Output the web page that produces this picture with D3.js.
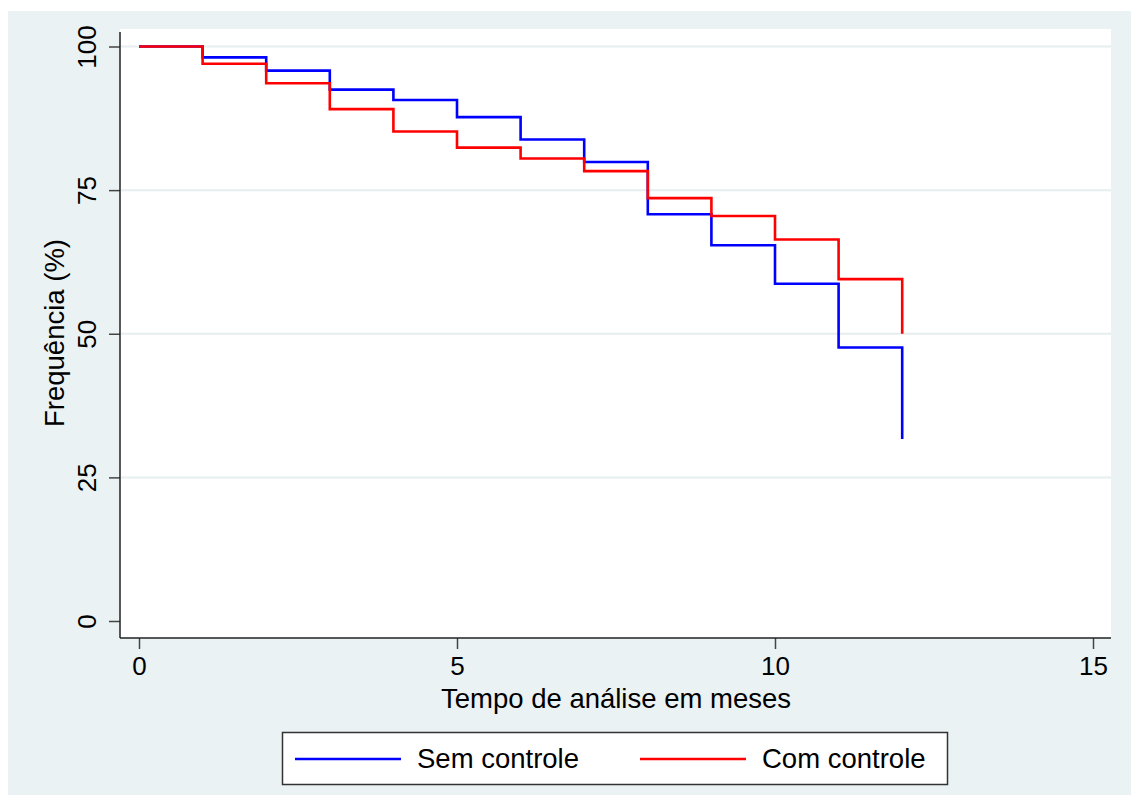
<!DOCTYPE html>
<html>
<head>
<meta charset="utf-8">
<script src="https://cdn.jsdelivr.net/npm/d3@7"></script>
<style>
  body { margin: 0; background: #fff; }
  text { font-family: "Liberation Sans", Arial, sans-serif; fill: #000; }
</style>
</head>
<body>
<figure id="km" style="margin:0"></figure>
<script>
// months since start
const months = [0, 1, 2, 3, 4, 5, 6, 7, 8, 9, 10, 11, 12];
// survival (%)
const semControle = [100, 98.1, 95.8, 92.5, 90.7, 87.7, 83.8, 79.9, 70.8, 65.4, 58.7, 47.6, 31.7];
const comControle = [100, 97.0, 93.6, 89.1, 85.2, 82.4, 80.5, 78.3, 73.6, 70.5, 66.4, 59.5, 50.0];
const xTicks = [0, 5, 10, 15];
const yTicks = [0, 25, 50, 75, 100];
const seriesNames = ["Sem controle", "Com controle"];
const seriesColors = ["#0000ff", "#ff0000"];

const width = 1131, height = 795;
const plot = { left: 120, right: 1111, top: 29, bottom: 638 };

const svg = d3.select("figure#km")
  .append("svg")
  .attr("width", width)
  .attr("height", height);

// outer graph region
svg.append("rect")
  .attr("x", 8).attr("y", 11)
  .attr("width", width - 8).attr("height", height - 11)
  .attr("fill", "#eaf2f3");

// plot region
svg.append("rect")
  .attr("x", plot.left).attr("y", plot.top)
  .attr("width", plot.right - plot.left).attr("height", plot.bottom - plot.top)
  .attr("fill", "#fff");

const x = d3.scaleLinear().domain([0, 15]).range([139, 1093]);
const y = d3.scaleLinear().domain([0, 100]).range([621, 46.5]);

// grid lines
svg.append("g")
  .selectAll("line")
  .data(yTicks.filter(d => d > 0))
  .enter()
  .append("line")
  .attr("x1", plot.left + 1).attr("x2", plot.right)
  .attr("y1", d => y(d)).attr("y2", d => y(d))
  .attr("stroke", "#e6eeef")
  .attr("stroke-width", 2);

// x axis
const xAxis = svg.append("g")
  .attr("transform", "translate(0," + plot.bottom + ")")
  .call(d3.axisBottom(x).tickValues(xTicks).tickSize(11).tickPadding(8).tickSizeOuter(0));
xAxis.select(".domain").remove();
xAxis.append("line")
  .attr("x1", plot.left).attr("x2", plot.right)
  .attr("stroke", "#222").attr("stroke-width", 1.5);
xAxis.selectAll(".tick line").attr("stroke", "#444").attr("stroke-width", 1.5);
xAxis.selectAll(".tick text")
  .style("font-size", "26px")
  .attr("fill", "#000");

// y axis
const yAxis = svg.append("g")
  .attr("transform", "translate(" + plot.left + ",0)")
  .call(d3.axisLeft(y).tickValues(yTicks).tickSize(11).tickSizeOuter(0));
yAxis.select(".domain").remove();
yAxis.append("line")
  .attr("y1", plot.top + 3).attr("y2", plot.bottom)
  .attr("stroke", "#222").attr("stroke-width", 1.5);
yAxis.selectAll(".tick line").attr("stroke", "#444").attr("stroke-width", 1.5);
yAxis.selectAll(".tick text")
  .attr("x", 0).attr("dy", 0)
  .attr("text-anchor", "middle")
  .attr("transform", "translate(-24,0) rotate(-90)")
  .style("font-size", "26px")
  .attr("fill", "#000");

// axis titles
svg.append("text")
  .attr("x", 616).attr("y", 708)
  .attr("text-anchor", "middle")
  .style("font-size", "27.5px")
  .text("Tempo de análise em meses");

svg.append("text")
  .attr("transform", "translate(64,333) rotate(-90)")
  .attr("text-anchor", "middle")
  .style("font-size", "27.5px")
  .text("Frequência (%)");

// step curves
const line = d3.line()
  .x(d => x(d[0]))
  .y(d => y(d[1]))
  .curve(d3.curveStepAfter);

[semControle, comControle].forEach((vals, i) => {
  svg.append("path")
    .datum(months.map((m, j) => [m, vals[j]]))
    .attr("d", line)
    .attr("fill", "none")
    .attr("stroke", seriesColors[i])
    .attr("stroke-width", 2.6);
});

// legend
const legend = svg.append("g");
legend.append("rect")
  .attr("x", 282.5).attr("y", 732.5)
  .attr("width", 665).attr("height", 52)
  .attr("fill", "#fff")
  .attr("stroke", "#333").attr("stroke-width", 1.5);

const legendX = [295, 640];
seriesNames.forEach((name, i) => {
  legend.append("line")
    .attr("x1", legendX[i]).attr("x2", legendX[i] + 106)
    .attr("y1", 759).attr("y2", 759)
    .attr("stroke", seriesColors[i]).attr("stroke-width", 2.6);
  legend.append("text")
    .attr("x", legendX[i] + 122).attr("y", 768)
    .style("font-size", "27.5px")
    .text(name);
});
</script>
</body>
</html>
